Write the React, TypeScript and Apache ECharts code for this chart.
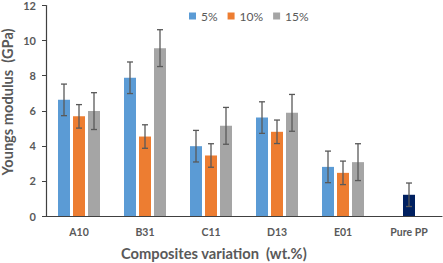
import React, { useEffect, useRef } from "react";
import * as echarts from "echarts";

const categories = ["A10", "B31", "C11", "D13", "E01", "Pure PP"];
const seriesNames = ["5%", "10%", "15%"];
const values5 = [6.62, 7.88, 3.98, 5.61, 2.8, null];
const values10 = [5.68, 4.53, 3.45, 4.8, 2.46, null];
const values15 = [5.98, 9.57, 5.14, 5.88, 3.07, null];
const purePP = 1.21;
const err5 = [0.9, 0.9, 0.9, 0.9, 0.9, null];
const err10 = [0.67, 0.67, 0.67, 0.67, 0.67, 0.67];
const err15 = [1.05, 1.05, 1.05, 1.05, 1.05, null];
const yTicks = [0, 2, 4, 6, 8, 10, 12];

const colors = ["#5B9BD5", "#ED7D31", "#A5A5A5"];
const pureColor = "#002060";
const textColor = "#595959";
const FONT = "Lato, 'Open Sans', sans-serif";
const BAR_W = 12;
const BAR_STEP = 15;

export default function App() {
  const ref = useRef<HTMLDivElement>(null);
  useEffect(() => {
    if (!ref.current) return;
    const chart = echarts.init(ref.current, null, { renderer: "svg" });

    const mid = values10.map((v, i) =>
      i === categories.length - 1 ? { value: purePP, itemStyle: { color: pureColor } } : v
    );
    const allVals = [values5, values10.map((v, i) => (i === categories.length - 1 ? purePP : v)), values15];
    const allErr = [err5, err10, err15];
    const errData: any[] = [];
    allVals.forEach((arr, s) => {
      arr.forEach((v, i) => {
        const e = allErr[s][i];
        if (v != null && e != null) errData.push([i, v, e, (s - 1) * BAR_STEP]);
      });
    });

    chart.setOption({
      animation: false,
      textStyle: { fontFamily: FONT },
      legend: {
        data: seriesNames,
        left: 184,
        top: 5,
        itemWidth: 7,
        itemHeight: 7,
        itemGap: 10,
        icon: "rect",
        textStyle: { color: textColor, fontSize: 12, fontFamily: FONT },
      },
      grid: { left: 46, right: 1, top: 5, bottom: 47, containLabel: false },
      xAxis: {
        type: "category",
        data: categories,
        axisLine: { lineStyle: { color: "#404040", width: 1.2 } },
        axisTick: { show: false },
        axisLabel: { color: textColor, fontSize: 10.5, fontWeight: "bold", margin: 10, fontFamily: FONT },
      },
      yAxis: {
        type: "value",
        min: yTicks[0],
        max: yTicks[yTicks.length - 1],
        interval: 2,
        splitLine: { show: false },
        axisLine: { show: true, lineStyle: { color: "#404040", width: 1.2 } },
        axisTick: { show: true, length: 4, lineStyle: { color: "#404040" } },
        axisLabel: { color: textColor, fontSize: 11, fontWeight: "bold", margin: 10, fontFamily: FONT },
      },
      graphic: [
        {
          type: "text",
          left: 121,
          top: 245,
          style: {
            text: "Composites variation  (wt.%)",
            fill: textColor,
            font: `bold 14.7px ${FONT}`,
          },
        },
        {
          type: "text",
          x: 0,
          y: 102,
          rotation: Math.PI / 2,
          style: {
            text: "Youngs modulus  (GPa)",
            fill: textColor,
            font: `bold 14.6px ${FONT}`,
            align: "center",
            verticalAlign: "top",
          },
        },
      ],
      series: [
        { name: "5%", type: "bar", data: values5, barWidth: BAR_W, barGap: "25%", itemStyle: { color: colors[0] } },
        { name: "10%", type: "bar", data: mid, barWidth: BAR_W, barGap: "25%", itemStyle: { color: colors[1] } },
        { name: "15%", type: "bar", data: values15, barWidth: BAR_W, barGap: "25%", itemStyle: { color: colors[2] } },
        {
          type: "custom",
          z: 10,
          data: errData,
          encode: { x: 0, y: 1 },
          renderItem: (params: any, api: any) => {
            const i = api.value(0);
            const v = api.value(1);
            const e = api.value(2);
            const off = api.value(3);
            const top = api.coord([i, v + e]);
            const bot = api.coord([i, v - e]);
            const x = top[0] + off;
            const st = { stroke: "#595959", lineWidth: 1.3 };
            return {
              type: "group",
              children: [
                { type: "line", shape: { x1: x, y1: top[1], x2: x, y2: bot[1] }, style: st },
                { type: "line", shape: { x1: x - 3, y1: top[1], x2: x + 3, y2: top[1] }, style: st },
                { type: "line", shape: { x1: x - 3, y1: bot[1], x2: x + 3, y2: bot[1] }, style: st },
              ],
            };
          },
        },
      ],
    });
    return () => chart.dispose();
  }, []);
  return <div ref={ref} style={{ width: 443, height: 263, position: "absolute", left: 0, top: 0 }} />;
}
